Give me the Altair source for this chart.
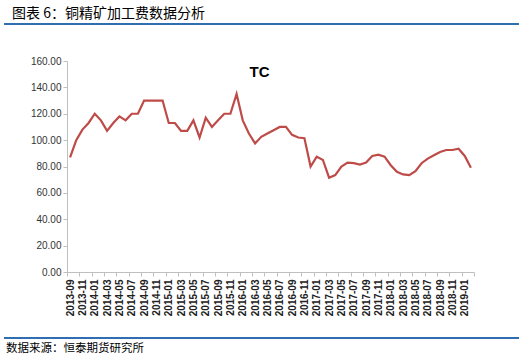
import json
import altair as alt
import pandas as pd

# ---- data ----
start_year, start_month = 2013, 9
tc_values = [
    87, 100, 108, 113, 120, 115, 107, 113, 118, 115, 120, 120,
    130, 130, 130, 130, 113, 113, 107, 107, 115, 102, 117, 110,
    115, 120, 120, 135, 115, 105, 97.5, 102.5, 105, 107.5, 110, 110,
    104, 102, 101.5, 80, 87.5, 85, 71.5, 73.5, 80, 83, 82.5, 81.5,
    83, 88, 89, 87.5, 81, 76, 74, 73.5, 76.5, 82.5, 86, 88.5,
    91, 92.5, 92.5, 93.5, 88, 79,
]
months = []
for i in range(len(tc_values)):
    m = start_month - 1 + i
    months.append(f"{start_year + m // 12}-{m % 12 + 1:02d}")
y_ticks = [0, 20, 40, 60, 80, 100, 120, 140, 160]

title_text = "图表 6：铜精矿加工费数据分析"
series_name = "TC"
source_text = "数据来源：恒泰期货研究所"

df = pd.DataFrame({"idx": list(range(len(tc_values))), "month": months, "tc": tc_values})
n = len(tc_values)
tick_vals = [-0.5 + 2 * k for k in range(n // 2 + 1)]
label_expr = ("datum.value > %d ? '' : %s[round(datum.value + 0.5)]"
              % (n - 1, json.dumps(months)))

W, H = 407, 211
PAD_L, PAD_T = 67, 61
cat_w = W / n

line = alt.Chart(df).mark_line(color="#BE4B48", strokeWidth=2.2).encode(
    x=alt.X("idx:Q",
            scale=alt.Scale(domain=[-0.5, n - 0.5], nice=False, zero=False),
            axis=alt.Axis(values=tick_vals, labelExpr=label_expr, title=None,
                          labelAngle=-90, labelOffset=cat_w / 2,
                          labelFontSize=10, labelFontWeight="bold",
                          labelFont="Liberation Sans", labelColor="#222222",
                          labelOverlap=False, labelFlush=False, labelPadding=3,
                          tickSize=4, tickColor="#BFBFBF", domainColor="#BFBFBF",
                          grid=False)),
    y=alt.Y("tc:Q",
            scale=alt.Scale(domain=[0, 160], nice=False),
            axis=alt.Axis(values=y_ticks, format=".2f", title=None,
                          labelFontSize=10, labelFont="Liberation Sans",
                          labelColor="#333333", labelPadding=2,
                          tickSize=4, tickColor="#BFBFBF", domainColor="#BFBFBF",
                          grid=False)),
)

def text_layer(txt, x, y, **kw):
    return alt.Chart(alt.Data(values=[{"t": txt}])).mark_text(**kw).encode(
        text="t:N", x=alt.value(x), y=alt.value(y))

def rule_layer(y):
    return alt.Chart(alt.Data(values=[{"a": 1}])).mark_rule(
        color="#2F6EB0", strokeWidth=2).encode(
        x=alt.value(4 - PAD_L), x2=alt.value(519 - PAD_L), y=alt.value(y))

title = text_layer(title_text, 12 - PAD_L, 14 - PAD_T, align="left", baseline="middle",
                   font="Noto Sans CJK SC", fontSize=14, color="#000000")
tc_label = text_layer(series_name, 259.5 - PAD_L, 72 - PAD_T, align="center",
                      baseline="middle", font="Liberation Sans",
                      fontSize=15, fontWeight="bold", color="#000000")
footer = text_layer(source_text, 6 - PAD_L, 349 - PAD_T, align="left", baseline="middle",
                    font="Noto Sans CJK SC", fontSize=11.5, color="#000000")

chart = alt.layer(line, rule_layer(24 - PAD_T), rule_layer(338 - PAD_T),
                  title, tc_label, footer).properties(
    width=W, height=H,
    autosize=alt.AutoSizeParams(type="none"),
    padding={"left": PAD_L, "top": PAD_T, "right": 519 - PAD_L - W, "bottom": 357 - PAD_T - H},
    background="#FFFFFF",
).configure_view(stroke=None)

chart.save("out.html", embed_options={"renderer": "svg", "actions": False})
